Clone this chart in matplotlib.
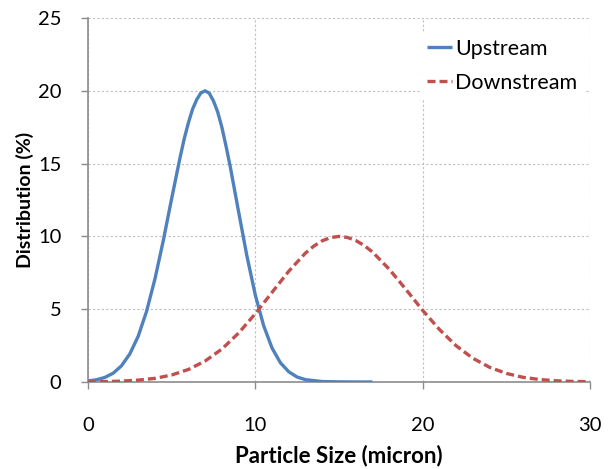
import matplotlib
matplotlib.use("Agg")
import matplotlib.pyplot as plt

# Datos
x_up = [0, 0.5, 1, 1.5, 2, 2.5, 3, 3.5, 4, 4.5, 5, 5.5, 5.75, 6, 6.25, 6.5,
        6.75, 7, 7.25, 7.5, 7.75, 8, 8.25, 8.5, 9, 9.5, 10, 10.5, 11, 11.5,
        12, 12.5, 13, 14, 15, 16, 17]
y_up = [0.07, 0.15, 0.31, 0.60, 1.11, 1.93, 3.14, 4.85, 7.07, 9.71, 12.6, 15.4,
        16.7, 17.8, 18.74, 19.4, 19.86, 20.0, 19.83, 19.3, 18.55, 17.5, 16.2,
        14.8, 11.7, 8.64, 5.97, 3.86, 2.33, 1.32, 0.70, 0.34, 0.16, 0.03,
        0.01, 0.0, 0.0]

x_down = [0, 1, 2, 3, 4, 5, 6, 7, 8, 9, 10, 11, 12, 13, 13.5, 14, 14.5, 15,
          15.5, 16, 16.5, 17, 18, 19, 20, 21, 22, 23, 24, 25, 26, 27, 28, 29, 30]
y_down = [0.01, 0.03, 0.06, 0.13, 0.25, 0.48, 0.86, 1.44, 2.26, 3.36, 4.69,
          6.16, 7.61, 8.86, 9.34, 9.70, 9.92, 10.0, 9.93, 9.72, 9.38, 8.93,
          7.75, 6.36, 4.92, 3.61, 2.49, 1.63, 1.01, 0.59, 0.32, 0.17, 0.08,
          0.04, 0.02]

x_ticks = [0, 10, 20, 30]
y_ticks = [0, 5, 10, 15, 20, 25]

plt.rcParams['font.family'] = ['Lato', 'DejaVu Sans']

fig = plt.figure(figsize=(6.08, 4.69), dpi=100)
ax = fig.add_axes([0.1447, 0.1855, 0.8257, 0.7761])

ax.plot(x_up, y_up, color="#4F81BD", lw=2.4, label="Upstream",
        solid_capstyle="butt", solid_joinstyle="round", zorder=3)
ax.plot(x_down, y_down, color="#C0504D", lw=2.4, ls=(0, (2.4, 1.2)),
        label="Downstream", zorder=3)

ax.set_xlim(0, 30)
ax.set_ylim(0, 25)
ax.set_xticks(x_ticks)
ax.set_yticks(y_ticks)

# Rejilla punteada gris
ax.grid(True, color="#BFBFBF", ls=(0, (2, 2)), lw=0.8)
ax.set_axisbelow(True)

for s in ["top", "right"]:
    ax.spines[s].set_visible(False)
for s in ["left", "bottom"]:
    ax.spines[s].set_color("#8C8C8C")
    ax.spines[s].set_linewidth(1.2)

ax.tick_params(axis="x", direction="out", length=5, width=1, color="#8C8C8C",
               pad=20, labelsize=14.5)
ax.tick_params(axis="y", direction="out", length=5, width=1, color="#8C8C8C",
               pad=14, labelsize=14.5)

ax.set_xlabel("Particle Size (micron)", fontsize=16, fontweight="bold", labelpad=8)
ax.set_ylabel("Distribution (%)", fontsize=14, fontweight="bold", labelpad=3)

leg = ax.legend(loc="upper right", bbox_to_anchor=(0.988, 0.96), fontsize=15.5,
                frameon=True, handlelength=1.15, handletextpad=0.15,
                labelspacing=0.65, borderaxespad=0.0, borderpad=0.3)
leg.get_frame().set_edgecolor("none")
leg.get_frame().set_facecolor("white")
leg.get_frame().set_alpha(1)

fig.savefig("out.png", dpi=100)
